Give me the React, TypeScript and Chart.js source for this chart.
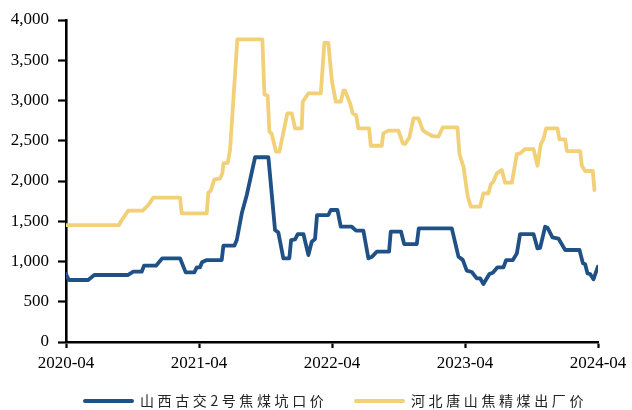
import React, { useEffect, useRef } from "react";
import { Chart, registerables } from "chart.js";

Chart.register(...registerables);

const xTickLabels = ["2020-04", "2021-04", "2022-04", "2023-04", "2024-04"];
const seriesNames = ["山西古交2号焦煤坑口价", "河北唐山焦精煤出厂价"];
const seriesColors = ["#1F5186", "#F1D077"];

// x = months since 2020-04
const blueMonths = [0, 0.25, 2.0, 2.55, 5.57, 6.07, 6.83, 7.04, 8.12, 8.69, 10.29, 10.8, 11.58, 11.8, 12.09, 12.27, 12.7, 14.05, 14.2, 15.19, 15.41, 15.86, 16.31, 17.06, 18.26, 18.86, 19.16, 19.61, 20.15, 20.31, 20.67, 20.91, 21.42, 21.87, 22.17, 22.47, 22.65, 23.67, 23.89, 24.49, 24.79, 25.78, 26.17, 26.83, 27.28, 27.62, 28.04, 29.15, 29.3, 30.23, 30.51, 31.65, 31.83, 34.81, 35.41, 35.8, 36.16, 36.61, 37.06, 37.36, 37.66, 38.2, 38.51, 38.93, 39.47, 39.71, 40.32, 40.68, 40.97, 42.18, 42.54, 42.78, 43.23, 43.44, 43.89, 44.43, 45.04, 46.33, 46.64, 46.84, 47.05, 47.29, 47.59, 47.99];
const blueValues = [845, 770, 770, 832, 832, 873, 873, 948, 948, 1040, 1040, 865, 865, 928, 928, 990, 1018, 1018, 1196, 1196, 1267, 1598, 1826, 2295, 2295, 1391, 1360, 1040, 1040, 1267, 1275, 1341, 1341, 1080, 1246, 1280, 1577, 1577, 1640, 1640, 1432, 1432, 1383, 1383, 1040, 1060, 1122, 1122, 1370, 1370, 1217, 1217, 1412, 1412, 1060, 1020, 886, 870, 791, 791, 720, 845, 860, 928, 928, 1018, 1018, 1101, 1341, 1341, 1163, 1170, 1432, 1420, 1300, 1285, 1143, 1143, 977, 965, 853, 845, 779, 936];

const yellowMonths = [0, 4.78, 5.03, 5.62, 6.92, 7.42, 7.88, 10.29, 10.44, 12.7, 12.84, 13.06, 13.38, 13.9, 14.11, 14.2, 14.59, 14.8, 15.46, 17.72, 17.9, 18.2, 18.35, 18.55, 18.95, 19.25, 19.97, 20.37, 20.67, 21.27, 21.36, 21.87, 22.99, 23.31, 23.67, 23.98, 24.34, 24.79, 25.03, 25.18, 25.63, 25.87, 26.17, 26.38, 27.35, 27.5, 28.49, 28.63, 29.09, 29.99, 30.39, 30.6, 30.98, 31.35, 31.8, 32.19, 32.49, 33.0, 33.6, 34.0, 35.32, 35.5, 35.86, 36.25, 36.53, 37.36, 37.66, 38.11, 38.33, 38.56, 38.87, 39.32, 39.62, 40.23, 40.68, 40.97, 41.43, 42.18, 42.54, 42.84, 43.08, 43.32, 44.34, 44.52, 45.04, 45.19, 46.39, 46.54, 46.84, 47.53, 47.68];
const yellowValues = [1453, 1453, 1515, 1631, 1631, 1701, 1793, 1793, 1598, 1598, 1855, 1880, 2021, 2030, 2095, 2219, 2225, 2385, 3760, 3760, 3076, 3060, 2612, 2590, 2364, 2364, 2840, 2840, 2654, 2654, 2985, 3089, 3089, 3717, 3717, 3254, 2985, 2985, 3121, 3121, 2965, 2840, 2820, 2654, 2654, 2438, 2438, 2592, 2625, 2625, 2468, 2460, 2540, 2778, 2778, 2633, 2600, 2562, 2550, 2667, 2667, 2335, 2177, 1805, 1681, 1681, 1847, 1847, 1958, 1990, 2095, 2136, 1979, 1979, 2335, 2343, 2397, 2397, 2190, 2459, 2520, 2654, 2654, 2518, 2518, 2372, 2372, 2190, 2124, 2124, 1888];

const toPoints = (xs: number[], ys: number[]) => xs.map((x, i) => ({ x, y: ys[i] }));

const legendPlugin = {
  id: "customLegend",
  afterDraw(chart: any) {
    const ctx = chart.ctx;
    const cy = 401;
    const starts = [83, 354];
    ctx.save();
    ctx.font = '14px "Noto Sans CJK SC"';
    (ctx as any).letterSpacing = "3.6px";
    ctx.textBaseline = "middle";
    ctx.textAlign = "left";
    chart.data.datasets.forEach((ds: any, i: number) => {
      const x = starts[i];
      ctx.beginPath();
      ctx.lineCap = "round";
      ctx.strokeStyle = ds.borderColor;
      ctx.lineWidth = 4;
      ctx.moveTo(x + 2, cy);
      ctx.lineTo(x + 49, cy);
      ctx.stroke();
      ctx.fillStyle = "#222";
      ctx.fillText(ds.label, x + 57, cy);
    });
    ctx.restore();
  },
};

export default function App() {
  const ref = useRef<HTMLCanvasElement>(null);
  useEffect(() => {
    if (!ref.current) return;
    const font = { family: '"Liberation Serif", "Times New Roman", serif', size: 17 };
    const chart = new Chart(ref.current, {
      type: "line",
      data: {
        datasets: [
          {
            label: seriesNames[0],
            data: toPoints(blueMonths, blueValues),
            borderColor: seriesColors[0],
            backgroundColor: seriesColors[0],
            borderWidth: 3.8,
            pointRadius: 0,
            tension: 0,
            borderJoinStyle: "round",
            borderCapStyle: "round",
          },
          {
            label: seriesNames[1],
            data: toPoints(yellowMonths, yellowValues),
            borderColor: seriesColors[1],
            backgroundColor: seriesColors[1],
            borderWidth: 3.8,
            pointRadius: 0,
            tension: 0,
            borderJoinStyle: "round",
            borderCapStyle: "round",
          },
        ],
      },
      options: {
        animation: false,
        responsive: false,
        devicePixelRatio: 1,
        layout: { padding: { top: 20, right: 34, bottom: 0, left: 0 } },
        plugins: { legend: { display: false }, tooltip: { enabled: false } },
        scales: {
          x: {
            type: "linear",
            min: 0,
            max: 48,
            afterFit: (s: any) => { s.height = 68; },
            ticks: {
              stepSize: 12,
              color: "#000",
              font,
              padding: 5,
              maxRotation: 0,
              callback: (v: any) => xTickLabels[Math.round(Number(v) / 12)] ?? "",
            },
            grid: { drawOnChartArea: false, drawTicks: true, tickLength: 6, tickWidth: 2.2, tickColor: "#000" },
            border: { color: "#000", width: 2.6 },
          },
          y: {
            min: 0,
            max: 4000,
            afterFit: (s: any) => { s.width = 66; },
            ticks: {
              stepSize: 500,
              color: "#000",
              font,
              padding: 9,
              callback: (v: any) => Number(v).toLocaleString("en-US"),
            },
            grid: { drawOnChartArea: false, drawTicks: true, tickLength: 8, tickWidth: 2.2, tickColor: "#000" },
            border: { color: "#000", width: 2.6 },
          },
        },
      },
      plugins: [legendPlugin],
    });
    return () => chart.destroy();
  }, []);
  return (
    <div style={{ position: "absolute", left: 0, top: 0, width: 632, height: 410, background: "#fff" }}>
      <canvas ref={ref} width={632} height={410} />
    </div>
  );
}
